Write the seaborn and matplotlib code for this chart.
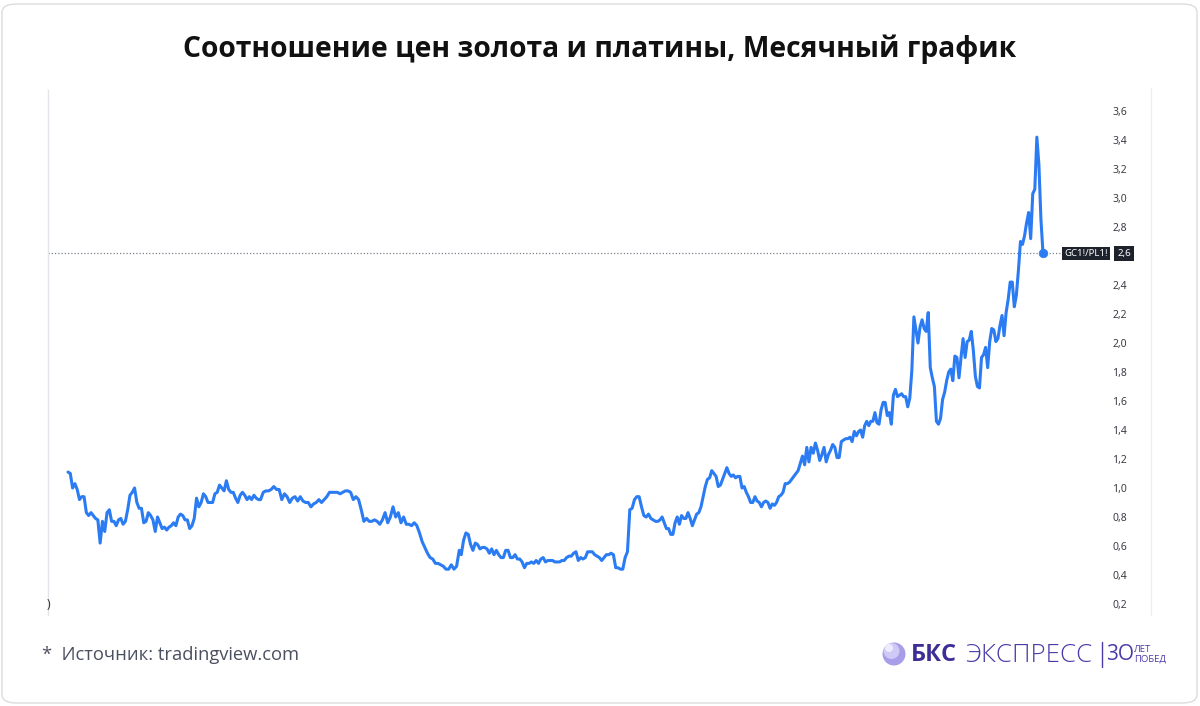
import numpy as np
import pandas as pd
import matplotlib
matplotlib.use('Agg')
import matplotlib.pyplot as plt
import matplotlib.transforms as mtransforms
from matplotlib.patches import FancyBboxPatch, Ellipse
from matplotlib.ticker import FuncFormatter
import seaborn as sns

sns.set_style('white')
plt.rcParams['font.family'] = ['Open Sans', 'DejaVu Sans']

W, H = 1200, 706
LINE = '#2b7bf3'

# Monthly GC1!/PL1! ratio in five stretches
seg_a_dates = ('1985-05', '1993-03')
seg_a = [1.11, 1.10, 1.00, 1.03, 0.99, 0.92, 0.94, 0.94, 0.83, 0.81,
         0.83, 0.81, 0.79, 0.78, 0.62, 0.77, 0.70, 0.83, 0.85, 0.77,
         0.77, 0.74, 0.78, 0.79, 0.75, 0.77, 0.85, 0.95, 0.97, 1.00,
         0.90, 0.86, 0.86, 0.76, 0.77, 0.83, 0.81, 0.78, 0.70, 0.80,
         0.76, 0.72, 0.73, 0.71, 0.73, 0.74, 0.76, 0.74, 0.80, 0.82,
         0.81, 0.78, 0.78, 0.72, 0.74, 0.79, 0.93, 0.87, 0.90, 0.96,
         0.94, 0.90, 0.90, 0.90, 0.96, 0.97, 1.02, 1.00, 0.98, 1.05,
         0.99, 0.97, 0.97, 0.93, 0.90, 0.95, 0.97, 0.95, 0.92, 0.94,
         0.92, 0.95, 0.93, 0.92]

seg_b_dates = ('1993-04', '2001-06')
seg_b = [0.92, 0.97, 0.98, 0.98, 0.99, 1.01, 0.99, 0.99, 0.92, 0.96,
         0.94, 0.90, 0.93, 0.94, 0.91, 0.94, 0.91, 0.90, 0.90, 0.87,
         0.89, 0.90, 0.92, 0.90, 0.92, 0.94, 0.97, 0.97, 0.97, 0.97,
         0.96, 0.97, 0.98, 0.98, 0.97, 0.92, 0.94, 0.92, 0.85, 0.77,
         0.79, 0.77, 0.77, 0.78, 0.77, 0.75, 0.78, 0.83, 0.76, 0.80,
         0.87, 0.80, 0.83, 0.76, 0.80, 0.75, 0.75, 0.74, 0.76, 0.74,
         0.69, 0.63, 0.59, 0.55, 0.52, 0.51, 0.48, 0.48, 0.47, 0.46,
         0.44, 0.44, 0.47, 0.44, 0.46, 0.57]

seg_c_dates = ('2001-07', '2009-08')
seg_c = [0.54, 0.64, 0.69, 0.68, 0.61, 0.57, 0.62, 0.61, 0.58, 0.59,
         0.59, 0.58, 0.55, 0.58, 0.54, 0.57, 0.54, 0.52, 0.52, 0.57,
         0.57, 0.52, 0.52, 0.54, 0.51, 0.51, 0.49, 0.45, 0.48, 0.48,
         0.49, 0.48, 0.50, 0.48, 0.51, 0.52, 0.49, 0.50, 0.50, 0.50,
         0.49, 0.49, 0.49, 0.50, 0.50, 0.52, 0.53, 0.53, 0.55, 0.56,
         0.50, 0.52, 0.51, 0.52, 0.56, 0.56, 0.56, 0.54, 0.53, 0.52,
         0.50, 0.52, 0.54, 0.54, 0.55, 0.54, 0.45, 0.45, 0.44, 0.44,
         0.52, 0.56, 0.85, 0.86, 0.92, 0.94, 0.94, 0.87, 0.81, 0.80,
         0.82, 0.79, 0.78, 0.77, 0.77]

seg_d_dates = ('2009-09', '2017-11')
seg_d = [0.78, 0.80, 0.76, 0.72, 0.72, 0.68, 0.68, 0.76, 0.80, 0.75,
         0.81, 0.79, 0.79, 0.83, 0.79, 0.74, 0.78, 0.82, 0.83, 0.87,
         0.94, 1.01, 1.06, 1.07, 1.12, 1.10, 1.08, 1.01, 1.02, 1.06,
         1.10, 1.14, 1.10, 1.08, 1.09, 1.07, 1.08, 1.08, 1.00, 1.01,
         0.97, 0.94, 0.90, 0.90, 0.94, 0.91, 0.90, 0.87, 0.90, 0.91,
         0.90, 0.86, 0.89, 0.88, 0.90, 0.94, 0.95, 0.97, 1.03, 1.03,
         1.04, 1.06, 1.08, 1.10, 1.12, 1.17, 1.22, 1.16, 1.28, 1.18,
         1.28, 1.24, 1.31, 1.26, 1.19, 1.23, 1.28, 1.18, 1.23, 1.26,
         1.30, 1.28, 1.21, 1.21, 1.32, 1.33, 1.34, 1.34, 1.35, 1.32,
         1.39, 1.36, 1.39]

seg_e_dates = ('2017-12', '2025-06')
seg_e = [1.40, 1.35, 1.43, 1.46, 1.43, 1.46, 1.46, 1.52, 1.45, 1.44,
         1.54, 1.59, 1.59, 1.50, 1.52, 1.44, 1.64, 1.68, 1.63, 1.64,
         1.65, 1.63, 1.63, 1.56, 1.62, 1.81, 2.18, 2.09, 2.00, 2.11,
         2.16, 2.10, 2.08, 2.21, 1.83, 1.76, 1.70, 1.46, 1.44, 1.48,
         1.61, 1.66, 1.74, 1.80, 1.82, 1.74, 1.91, 1.90, 1.76, 1.90,
         2.03, 1.90, 2.01, 2.02, 2.08, 1.95, 1.77, 1.70, 1.69, 1.90,
         1.92, 1.97, 1.83, 2.01, 2.10, 2.09, 2.01, 2.03, 2.12, 2.19,
         2.05, 2.21, 2.30, 2.42, 2.42, 2.25, 2.33, 2.50, 2.70, 2.68,
         2.74, 2.83, 2.90, 2.72, 3.03, 3.06, 3.42, 3.23, 2.85, 2.62]

y_ticks = [0.2, 0.4, 0.6, 0.8, 1.0, 1.2, 1.4, 1.6, 1.8, 2.0, 2.2, 2.4,
           2.6, 2.8, 3.0, 3.2, 3.4, 3.6]

TITLE = 'Соотношение цен золота и платины, Месячный график'
SOURCE = '*  Источник: tradingview.com'
SYMBOL = 'GC1!/PL1!'

frames = []
for (start, end), vals in [(seg_a_dates, seg_a), (seg_b_dates, seg_b),
                           (seg_c_dates, seg_c), (seg_d_dates, seg_d),
                           (seg_e_dates, seg_e)]:
    frames.append(pd.DataFrame({'date': pd.date_range(start, end, periods=len(vals)),
                                'ratio': vals}))
df = pd.concat(frames, ignore_index=True)
last = df.iloc[-1]
last_label = f"{last['ratio']:.1f}".replace('.', ',')


def fx(x):
    return x / W


def fy(y):
    return 1 - y / H


def tick_fmt(v, _):
    s = f'{v:.1f}'.replace('.', ',')
    # the last-value badge covers this tick
    return '' if s == last_label else s


fig = plt.figure(figsize=(W / 100, H / 100), dpi=100)

# outer rounded frame
fig.add_artist(FancyBboxPatch((fx(2), fy(703)), fx(1195), 699 / H,
                              boxstyle='round,pad=0,rounding_size=0.012',
                              transform=fig.transFigure, fc='white',
                              ec='#dcdcdc', lw=1, zorder=-5))

ax = fig.add_axes([fx(48), fy(615), 1052 / W, 525 / H])
ax.set_facecolor('none')

sns.lineplot(data=df, x='date', y='ratio', color=LINE, lw=2.2, ax=ax,
             zorder=4)
sns.scatterplot(data=df.tail(1), x='date', y='ratio', color=LINE,
                edgecolor=LINE, s=38, ax=ax, zorder=5)
ax.axhline(last['ratio'], color='#7d818c', lw=0.9, ls=(0, (1, 1.6)), zorder=2)

d0, d1 = df['date'].iloc[0], df['date'].iloc[-1]
per_px = (d1 - d0) / 975
ax.set_xlim(d0 - 20 * per_px, d1 + 57 * per_px)
ax.set_ylim(0.124, 3.745)

ax.yaxis.tick_right()
ax.set_yticks(y_ticks)
ax.yaxis.set_major_formatter(FuncFormatter(tick_fmt))
ax.tick_params(axis='y', length=0, pad=9, labelsize=7.5, labelcolor='#3a3d46')
for lab in ax.get_yticklabels():
    lab.set_family(['Noto Sans', 'DejaVu Sans'])
ax.set_xticks([])
ax.set_xlabel('')
ax.set_ylabel('')
for side in ['top', 'right', 'bottom']:
    ax.spines[side].set_visible(False)
ax.spines['left'].set_color('#e3e5ea')
ax.spines['left'].set_linewidth(1)
ax.grid(False)

# last value badges
trans = mtransforms.blended_transform_factory(ax.transAxes, ax.transData)
ax.text((1108 - 48) / 1052, last['ratio'], SYMBOL, transform=trans,
        ha='right', va='center', fontsize=6.9, color='white',
        family=['Noto Sans', 'DejaVu Sans'], fontweight='bold',
        bbox=dict(boxstyle='square,pad=0.22', fc='#1e222d', ec='none'),
        clip_on=False, zorder=7)
ax.text((1124 - 48) / 1052, last['ratio'], last_label,
        transform=trans, ha='center', va='center', fontsize=7, color='white',
        family=['Noto Sans', 'DejaVu Sans'], fontweight='bold',
        bbox=dict(boxstyle='square,pad=0.3', fc='#1e222d', ec='none'),
        clip_on=False, zorder=7)

# price scale separator
fig.add_artist(plt.Line2D([fx(1151), fx(1151)], [fy(88), fy(615)],
                          color='#eceef2', lw=1))
fig.text(fx(47), fy(604), ')', fontsize=9, ha='left', va='center',
         color='#333333')

fig.text(0.5, fy(49), TITLE, ha='center', va='center', fontsize=20.3,
         fontweight='bold', color='#111111')
fig.text(fx(42), fy(655), SOURCE, ha='left', va='center', fontsize=13.2,
         color='#4b5060')

# logo
fig.add_artist(Ellipse((fx(894), fy(654)), 23 / W, 23 / H,
                       transform=fig.transFigure, fc='#a89de9', ec='none'))
fig.add_artist(Ellipse((fx(891.5), fy(651)), 16 / W, 16 / H,
                       transform=fig.transFigure, fc='#cfc9f6', ec='none'))
fig.add_artist(Ellipse((fx(889), fy(648)), 8 / W, 8 / H,
                       transform=fig.transFigure, fc='#eeebfd', ec='none'))
PURPLE = '#3c2e96'
fig.text(fx(911), fy(655), 'БКС', ha='left', va='center', fontsize=17,
         fontweight='bold', color=PURPLE)
fig.text(fx(965), fy(655), 'ЭКСПРЕСС', ha='left', va='center', fontsize=18.6,
         fontweight='light', color='#4a3ca8')
fig.add_artist(plt.Line2D([fx(1102), fx(1102)], [fy(642), fy(667)],
                          color='#4a3ca8', lw=1))
fig.text(fx(1106), fy(655), '3О', ha='left', va='center', fontsize=15,
         color='#4a3ca8')
fig.text(fx(1134), fy(649), 'ЛЕТ', ha='left', va='center', fontsize=6.8,
         color='#4a3ca8')
fig.text(fx(1134), fy(659), 'ПОБЕД', ha='left', va='center', fontsize=6.8,
         color='#4a3ca8')

fig.savefig('out.png', dpi=100)
plt.close(fig)
